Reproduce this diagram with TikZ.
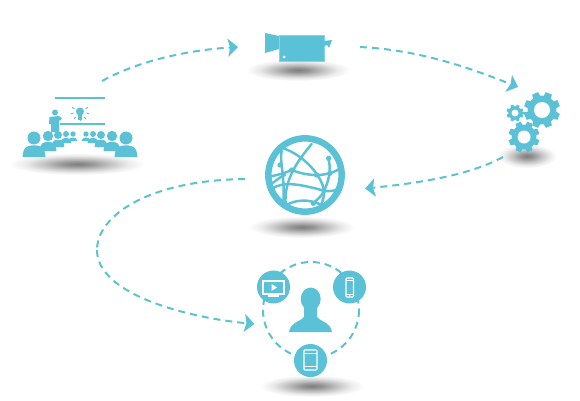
\documentclass[tikz,border=0pt]{standalone}
\usetikzlibrary{arrows.meta}
\definecolor{teal1}{HTML}{5BC1D7}
\definecolor{dashc}{HTML}{5CC3CE}
\definecolor{lite}{HTML}{7FD6EE}
\definecolor{bulbg}{HTML}{6CC8B4}
\pgfdeclareradialshading{shad}{\pgfpoint{0bp}{0bp}}{color(0bp)=(black!50);color(5bp)=(black!42);color(12bp)=(black!24);color(19bp)=(black!8);color(25bp)=(white);color(50bp)=(white)}
\newcommand{\audience}[5]{% x, head y, head r, half width, base
  \fill[teal1] (#1,#2) circle[radius=#3];
  \fill[teal1] (#1-#4,#5) .. controls (#1-#4+0.5,#2+#3+1.5) and (#1-#3*0.8,#2+#3+0.8) .. (#1,#2+#3+0.8)
     .. controls (#1+#3*0.8,#2+#3+0.8) and (#1+#4-0.5,#2+#3+1.5) .. (#1+#4,#5) -- cycle;
}
\newcommand{\cogwheel}[5]{% x,y,outer,hole,tooth half width
  \fill[teal1] (#1,#2) circle[radius=#3*0.80];
  \foreach \a in {0,45,...,315}
    \fill[teal1,shift={(#1,#2)},rotate=\a+22.5] (#3*0.7,-#5) -- (#3,-#5*0.8) -- (#3,#5*0.8) -- (#3*0.7,#5) -- cycle;
  \fill[white] (#1,#2) circle[radius=#4];
}
\tikzset{
  flowline/.style={draw=dashc,line width=2pt,dash pattern=on 7pt off 5pt},
  flow/.style={flowline,-{Stealth[length=10pt,width=18pt,inset=2pt,fill=teal1,color=teal1]}},
  anchorbox/.style={inner sep=0pt,outer sep=0pt,draw=none},
  whiteline/.style={draw=white,line width=1.1pt},
  netline/.style={draw=teal1,line width=2.5pt,line cap=round}
}
\begin{document}
\begin{tikzpicture}[x=1pt,y=-1pt]
\useasboundingbox (0,0) rectangle (580,400);
% shadows
\shade[shading=shad] (77,164) ellipse[x radius=68,y radius=11];
\shade[shading=shad] (298,70) ellipse[x radius=52,y radius=11];
\shade[shading=shad] (527,156) ellipse[x radius=30,y radius=12];
\shade[shading=shad] (302,227) ellipse[x radius=53,y radius=11];
\shade[shading=shad] (312,386) ellipse[x radius=52,y radius=11];
% anchor nodes
\node[anchorbox,minimum width=44pt,minimum height=88pt] (presenter) at (80,125) {};
\node[anchorbox,minimum width=122pt,minimum height=30pt] (video) at (299,47) {};
\node[anchorbox,minimum width=30pt,minimum height=70pt] (gears) at (518,122) {};
\node[anchorbox,circle,minimum size=121pt] (globe) at (305.5,178) {};
\node[anchorbox,circle,minimum size=114pt] (user) at (311,317) {};
\coordinate (bend) at (97,250);
% connectors
\draw[flow] (presenter.north east) .. controls (140,60) and (190,50) .. (video.west);
\draw[flow] (video.east) .. controls (420,50) and (470,68) .. (gears.north);
\draw[flow] (gears.south west) .. controls (470,175) and (420,183) .. (globe.-10);
\draw[flowline] (globe.181) .. controls (150,180) and (97,215) .. (bend);
\draw[flow] (bend) .. controls (97,295) and (190,318) .. (user.187);
% presenter icon
\draw[teal1,line width=1.1pt] (55,98) -- (105,98);
\draw[teal1,line width=1.1pt] (60,124) -- (105,124);
\fill[teal1] (80,111.5) circle[radius=4];
\fill[teal1] (78.3,114) rectangle (81.7,120);
\foreach \a in {-30,10,50,90,130,170,210}
  \draw[bulbg,line width=1pt] (80,112) ++(\a:6.5) -- ++(\a:2.7);
\fill[teal1] (55,112.5) circle[radius=3];
\fill[teal1] (49.5,117) -- (59,116) -- (62,118.5) -- (60,120.5) -- (59,120.5) -- (59,132) -- (51,132) -- (51,124) -- (49,124) -- cycle;
\audience{34}{138}{6.5}{11.5}{157}
\audience{48}{136}{5.2}{8.5}{151}
\audience{58}{135}{4}{6.5}{147}
\audience{66}{134}{3}{5.5}{143}
\audience{73}{134}{2.7}{4.5}{141}
\audience{86}{134}{2.7}{4.5}{141}
\audience{93}{134}{3}{5.5}{143}
\audience{101}{135}{4}{6.5}{147}
\audience{112}{136}{5.2}{8.5}{151}
\audience{126}{138}{6.5}{11.5}{157}
% camera icon
\fill[teal1] (265,33) -- (279,36) -- (279,49) -- (265,53) -- cycle;
\fill[teal1,draw=lite,line width=0.8pt] (279,35) rectangle (324,61);
\fill[white] (284,57) circle[radius=1.5];
\fill[teal1] (324,41) -- (332,40) -- (329,48) -- (327,45) -- (324,46) -- cycle;
% gears icon
\draw[teal1,line width=2pt] (519,113) -- (530,113);
\cogwheel{542}{110}{18}{8}{4}
\cogwheel{524}{137}{15.5}{6.5}{3.4}
\cogwheel{515}{113}{8.5}{3.5}{1.8}
% globe icon
\begin{scope}[shift={(240,125)},x=0.3333pt,y=-0.3333pt]
  \draw[netline] (215,57) .. controls (180,100) and (130,160) .. (137,240);
  \draw[netline] (130,70) .. controls (190,90) and (245,150) .. (252,197) .. controls (254,220) and (245,235) .. (238,250);
  \draw[netline] (125,78) .. controls (118,110) and (135,150) .. (130,235);
  \draw[netline] (90,155) .. controls (110,150) and (135,145) .. (155,135);
  \draw[netline] (92,178) .. controls (105,170) and (120,155) .. (135,150);
  \draw[netline] (155,135) .. controls (180,145) and (205,150) .. (230,150) .. controls (250,150) and (280,145) .. (300,130);
  \draw[netline] (265,100) .. controls (270,120) and (275,150) .. (252,197) .. controls (245,215) and (230,225) .. (218,236);
  \draw[netline] (140,240) .. controls (165,225) and (205,220) .. (245,240);
  \draw[netline] (98,190) .. controls (130,170) and (170,175) .. (252,197) .. controls (270,200) and (285,198) .. (295,190);
  \foreach \p/\r in {155/135,230/150,270/145,252/197,266/100,220/235,120/120}
    \fill[teal1] (\p,\r) circle[radius=8];
  \draw[teal1,line width=6.5pt] (195,150) circle[radius=110];
\end{scope}
% user group
\draw[flowline] (311,310) circle[radius=48];
\fill[teal1] (310.7,299) ellipse[x radius=10,y radius=11.5];
\fill[teal1] (289,332) .. controls (291,322) and (298,323) .. (304,317) -- (304,305) -- (317,305) -- (317,317) .. controls (323,323) and (330,322) .. (332,332) -- cycle;
\node[circle,fill=teal1,minimum size=33pt,inner sep=0pt] (tv) at (273.5,287) {};
\node[circle,fill=teal1,minimum size=33pt,inner sep=0pt] (phone) at (349.5,287) {};
\node[circle,fill=teal1,minimum size=33pt,inner sep=0pt] (tablet) at (310.5,360.5) {};
% tv
\draw[whiteline] (263,281) rectangle (284,294);
\draw[whiteline] (268,296) -- (279,296);
\fill[white] (271.5,284) -- (277,287.5) -- (271.5,291) -- cycle;
% phone
\draw[whiteline,rounded corners=0.8pt] (346,278) rectangle (353.5,297);
\fill[white] (349.7,295.7) circle[radius=0.6];
\draw[white,line width=0.7pt] (346,280) -- (353.5,280);
\draw[white,line width=0.7pt] (346,294.5) -- (353.5,294.5);
% tablet
\draw[whiteline,rounded corners=0.8pt] (304,350) rectangle (317,370);
\draw[white,line width=0.7pt] (304,353) -- (317,353);
\draw[white,line width=0.7pt] (304,366.5) -- (317,366.5);
\end{tikzpicture}
\end{document}
